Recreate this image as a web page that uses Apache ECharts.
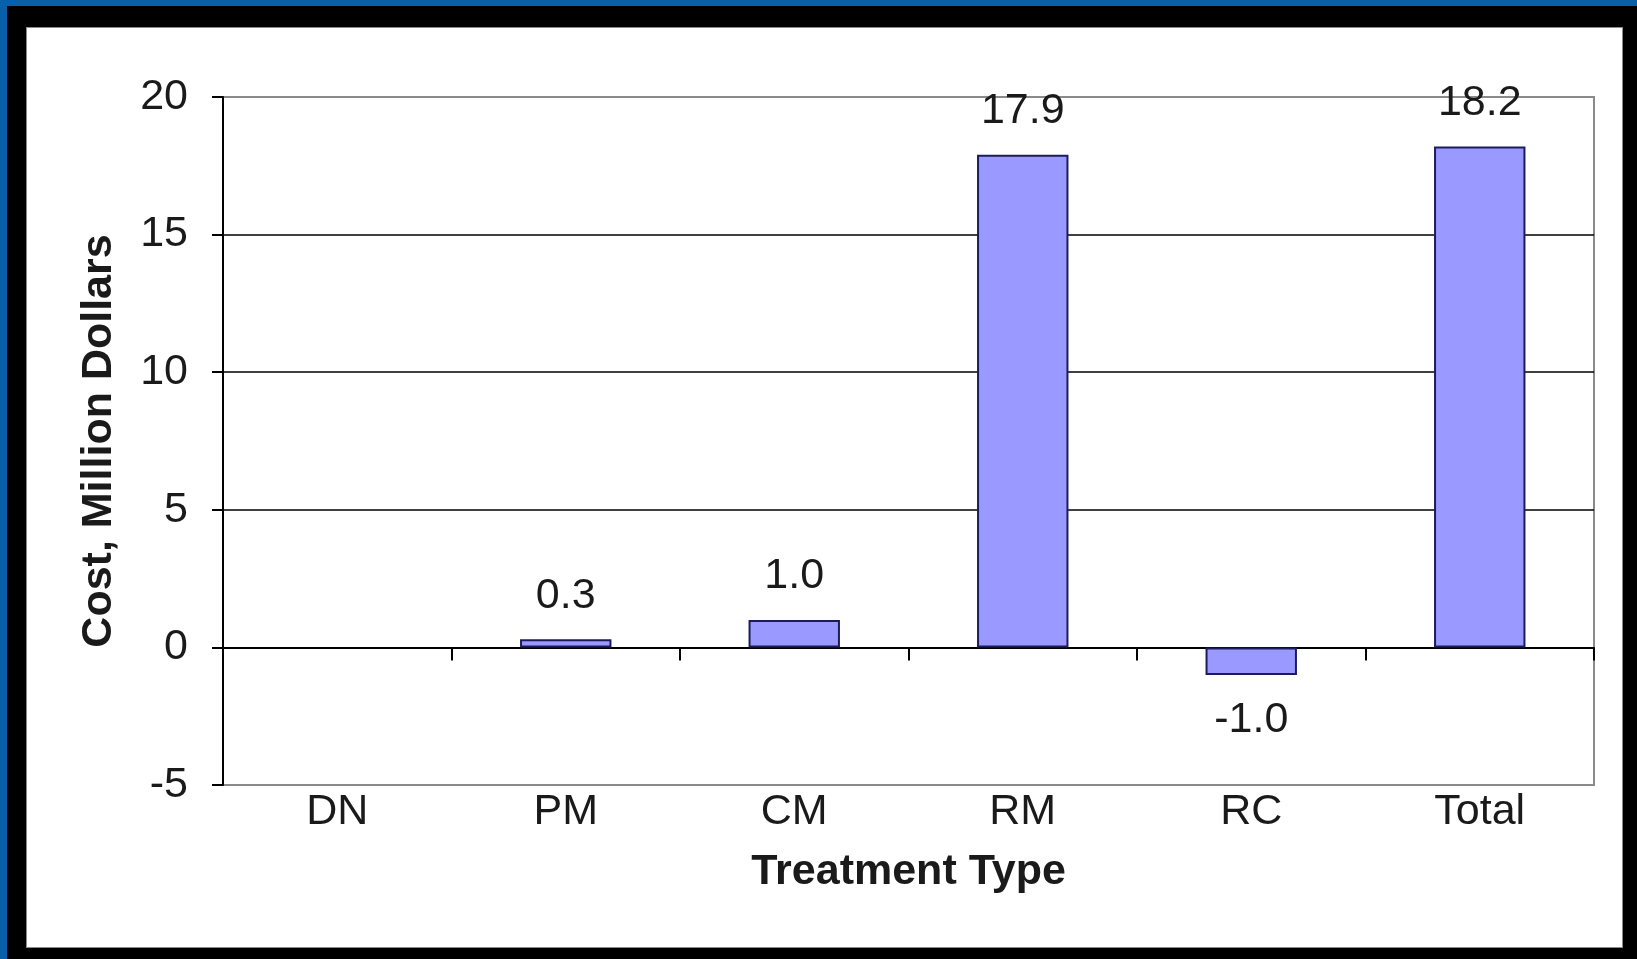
<!DOCTYPE html>
<html>
<head>
<meta charset="utf-8">
<title>Cost by Treatment Type</title>
<script src="https://cdn.jsdelivr.net/npm/echarts@6/dist/echarts.min.js"></script>
<style>
  html, body { margin: 0; padding: 0; width: 1637px; height: 959px; overflow: hidden; background: #000; }
  #frame {
    position: absolute; left: 0; top: 0; width: 1637px; height: 959px;
    box-sizing: border-box; border-left: 7px solid #0860a8; border-top: 6px solid #0860a8;
    background: #000;
  }
  #paper {
    position: absolute; left: 26px; top: 27px; width: 1597px; height: 921px;
    box-sizing: border-box; background: #fff; border: 1px solid #8a8a8a;
  }
  #chart { position: absolute; left: 0; top: 0; width: 1637px; height: 959px; }
</style>
</head>
<body>
<div id="frame"></div>
<div id="paper"></div>
<div id="chart"></div>
<script>
// Cost per treatment type, million dollars
const categories = ['DN', 'PM', 'CM', 'RM', 'RC', 'Total'];
const costs = [0, 0.3, 1.0, 17.9, -1.0, 18.2];
const yMin = -5;
const yMax = 20;
const yStep = 5;

const FONT = 'Liberation Sans, Arial, sans-serif';
const TEXT = '#1a1a1a';

const chart = echarts.init(document.getElementById('chart'), null, { renderer: 'canvas' });

chart.setOption({
  animation: false,
  backgroundColor: 'transparent',
  grid: {
    left: 223, right: 43, top: 97, bottom: 174,
    outerBoundsMode: 'none',
    show: true, borderColor: '#8a8a8a', borderWidth: 2, backgroundColor: 'transparent'
  },
  xAxis: [
    {
      // category labels along the bottom of the plot
      type: 'category',
      data: categories,
      position: 'bottom',
      axisLine: { onZero: false, show: false },
      axisTick: { show: false },
      axisLabel: { color: TEXT, fontFamily: FONT, fontSize: 43, margin: 6 },
      name: 'Treatment Type',
      nameLocation: 'middle',
      nameGap: 66,
      nameTextStyle: { color: TEXT, fontFamily: FONT, fontSize: 43, fontWeight: 'bold' }
    },
    {
      // zero line with category dividers
      type: 'category',
      data: categories,
      position: 'top',
      axisLine: { onZero: true, show: true, lineStyle: { color: '#000', width: 2 } },
      axisTick: { show: true, inside: true, length: 13, lineStyle: { color: '#000', width: 2 } },
      axisLabel: { show: false }
    }
  ],
  yAxis: {
    type: 'value',
    min: yMin, max: yMax, interval: yStep,
    axisLine: { show: true, lineStyle: { color: '#000', width: 2 } },
    axisTick: { show: true, length: 11, lineStyle: { color: '#000', width: 2 } },
    axisLabel: {
      color: TEXT, fontFamily: FONT, fontSize: 43, margin: 35,
      padding: [0, 0, 8, 0]
    },
    splitLine: { show: true, showMinLine: false, showMaxLine: false, lineStyle: { color: '#000', width: 1.5 } },
    name: 'Cost, Million Dollars',
    nameLocation: 'middle',
    nameGap: 102,
    nameRotate: 90,
    nameTextStyle: { color: TEXT, fontFamily: FONT, fontSize: 43, fontWeight: 'bold' }
  },
  series: [{
    type: 'bar',
    xAxisIndex: 0,
    data: costs.map(v => ({
      value: v,
      itemStyle: v === 0 ? { borderWidth: 0 } : undefined,
      label: { position: v < 0 ? 'bottom' : 'top', distance: v < 0 ? 24 : 22 }
    })),
    barWidth: '40%',
    itemStyle: { color: '#9999ff', borderColor: '#1c1c5c', borderWidth: 2 },
    label: {
      show: true,
      color: TEXT, fontFamily: FONT, fontSize: 43,
      formatter: p => (p.value === 0 ? '' : p.value.toFixed(1))
    }
  }]
});
</script>
</body>
</html>
